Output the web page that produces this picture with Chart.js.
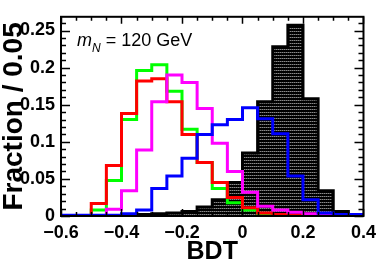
<!DOCTYPE html>
<html>
<head>
<meta charset="utf-8">
<script src="https://cdn.jsdelivr.net/npm/chart.js@4"></script>
<style>
  html, body { margin: 0; padding: 0; background: #fff; }
  #wrap { width: 382px; height: 273px; }
</style>
</head>
<body>
<div id="wrap"><canvas id="bdt"></canvas></div>
<script>
// bin left edges, width 0.05
const binEdges = [-0.6, -0.55, -0.5, -0.45, -0.4, -0.35, -0.3, -0.25, -0.2, -0.15,
                  -0.1, -0.05, 0, 0.05, 0.1, 0.15, 0.2, 0.25, 0.3, 0.35, 0.4];

const blackHist   = [0, 0, 0, 0, 0.001, 0.002, 0.003, 0.004, 0.006, 0.012,
                     0.022, 0.045, 0.085, 0.154, 0.228, 0.257, 0.158, 0.034, 0.006, 0.002];
const greenHist   = [0, 0, 0.008, 0.048, 0.130, 0.196, 0.204, 0.168, 0.117, 0.072,
                     0.037, 0.018, 0.008, 0.003, 0.001, 0, 0, 0, 0, 0];
const redHist     = [0, 0, 0.017, 0.068, 0.138, 0.182, 0.185, 0.154, 0.110, 0.072,
                     0.045, 0.025, 0.011, 0.004, 0.002, 0.001, 0, 0, 0, 0];
const magentaHist = [0, 0, 0, 0.009, 0.034, 0.089, 0.154, 0.190, 0.180, 0.145,
                     0.098, 0.060, 0.032, 0.013, 0.008, 0.005, 0.003, 0.002, 0.001, 0];
const blueHist    = [0.001, 0.001, 0.001, 0.001, 0.003, 0.008, 0.037, 0.054, 0.078, 0.110,
                     0.123, 0.130, 0.146, 0.131, 0.111, 0.054, 0.022, 0.004, 0.002, 0.002];

const xTicks = [-0.6, -0.4, -0.2, 0, 0.2, 0.4];
const xTickLabels = ['\u22120.6', '\u22120.4', '\u22120.2', '0', '0.2', '0.4'];
const yTicks = [0, 0.05, 0.1, 0.15, 0.2, 0.25];
const yTickLabels = ['0', '0.05', '0.1', '0.15', '0.2', '0.25'];

const NARROW = '"Liberation Sans Narrow", "Liberation Sans", Arial, sans-serif';
const SANS = '"Liberation Sans", Arial, sans-serif';

// step outline: one point per bin edge, last bin repeated at the right edge
function stepPoints(vals) {
    var pts = vals.map(function (v, i) { return { x: binEdges[i], y: v }; });
    pts.push({ x: binEdges[vals.length], y: vals[vals.length - 1] });
    return pts;
}

// dark dotted fill like the ROOT hatch style
function hatchPattern() {
    var c = document.createElement('canvas');
    c.width = 2; c.height = 3;
    var g = c.getContext('2d');
    g.fillStyle = '#000';
    g.fillRect(0, 0, 2, 3);
    g.fillStyle = '#8a8a8a';
    g.fillRect(0, 1, 1, 1);
    g.fillStyle = '#444';
    g.fillRect(1, 1, 1, 1);
    return g.createPattern(c, 'repeat');
}

function histLine(vals, color, order) {
    return {
        data: stepPoints(vals),
        borderColor: color,
        borderWidth: 3,
        stepped: 'before',
        pointRadius: 0,
        fill: false,
        order: order
    };
}

const frameTicks = {
    id: 'frameTicks',
    afterDatasetsDraw: function (chart) {
        var ctx = chart.ctx, a = chart.chartArea;
        var x = chart.scales.x, y = chart.scales.y;
        ctx.save();
        ctx.strokeStyle = '#000';
        ctx.lineWidth = 1.5;
        ctx.beginPath();
        // y: minor every 0.01, major every 0.05
        for (var i = 0; i <= 26; i++) {
            var py = Math.round(y.getPixelForValue(i * 0.01)) + 0.5;
            var len = (i % 5 === 0) ? 9 : 5;
            ctx.moveTo(a.left, py); ctx.lineTo(a.left + len, py);
            ctx.moveTo(a.right, py); ctx.lineTo(a.right - len, py);
        }
        // x: minor every 0.05, major every 0.2
        for (var j = 0; j <= 20; j++) {
            var px = Math.round(x.getPixelForValue(-0.6 + j * 0.05)) + 0.5;
            var l2 = (j % 4 === 0) ? 7 : 4;
            ctx.moveTo(px, a.top); ctx.lineTo(px, a.top + l2);
            ctx.moveTo(px, a.bottom); ctx.lineTo(px, a.bottom - l2);
        }
        ctx.stroke();
        ctx.lineWidth = 2;
        ctx.strokeRect(a.left, a.top, a.right - a.left, a.bottom - a.top);

        // m_N label
        ctx.fillStyle = '#000';
        ctx.textBaseline = 'alphabetic';
        ctx.font = 'italic 18px ' + SANS;
        ctx.fillText('m', 77, 46);
        var mw = ctx.measureText('m').width;
        ctx.font = 'italic 12px ' + SANS;
        ctx.fillText('N', 77 + mw, 52);
        var nw = ctx.measureText('N').width;
        ctx.font = '18px ' + SANS;
        ctx.fillText(' = 120 GeV', 77 + mw + nw, 46);
        ctx.restore();
    }
};

new Chart(document.getElementById('bdt'), {
    type: 'line',
    data: {
        datasets: [
            histLine(blueHist, '#0000ff', 0),
            histLine(magentaHist, '#ff00ff', 1),
            histLine(redHist, '#ff0000', 2),
            histLine(greenHist, '#00ff00', 3),
            {
                data: stepPoints(blackHist),
                borderColor: '#000',
                borderWidth: 3,
                stepped: 'before',
                pointRadius: 0,
                fill: 'origin',
                backgroundColor: hatchPattern(),
                order: 4
            }
        ]
    },
    options: {
        responsive: true,
        maintainAspectRatio: false,
        animation: false,
        events: [],
        layout: { padding: { top: 13, right: 16, left: 0, bottom: 0 } },
        plugins: { legend: { display: false }, tooltip: { enabled: false } },
        scales: {
            x: {
                type: 'linear',
                min: -0.6,
                max: 0.4,
                afterBuildTicks: function (s) { s.ticks = xTicks.map(function (v) { return { value: v }; }); },
                afterFit: function (s) { s.height = 57; },
                grid: { display: false, drawTicks: false },
                border: { display: false },
                ticks: {
                    autoSkip: false,
                    maxRotation: 0,
                    padding: 6,
                    color: '#000',
                    font: { family: NARROW, size: 18, weight: 'bold' },
                    callback: function (v) { return xTickLabels[xTicks.indexOf(v)]; }
                },
                title: {
                    display: true,
                    text: 'BDT',
                    color: '#000',
                    font: { family: NARROW, size: 25, weight: 'bold', lineHeight: 1 },
                    padding: { top: 0, bottom: 8 }
                }
            },
            y: {
                min: 0,
                max: 0.2685,
                afterBuildTicks: function (s) { s.ticks = yTicks.map(function (v) { return { value: v }; }); },
                afterFit: function (s) { s.width = 61; },
                grid: { display: false, drawTicks: false },
                border: { display: false },
                ticks: {
                    padding: 6,
                    color: '#000',
                    font: { family: NARROW, size: 18, weight: 'bold' },
                    callback: function (v) { return yTickLabels[yTicks.indexOf(v)]; }
                },
                title: {
                    display: true,
                    text: 'Fraction / 0.05',
                    color: '#000',
                    font: { family: SANS, size: 28, weight: 'bold', lineHeight: 1 },
                    padding: { top: 0, bottom: 0 }
                }
            }
        }
    },
    plugins: [frameTicks]
});
</script>
</body>
</html>
